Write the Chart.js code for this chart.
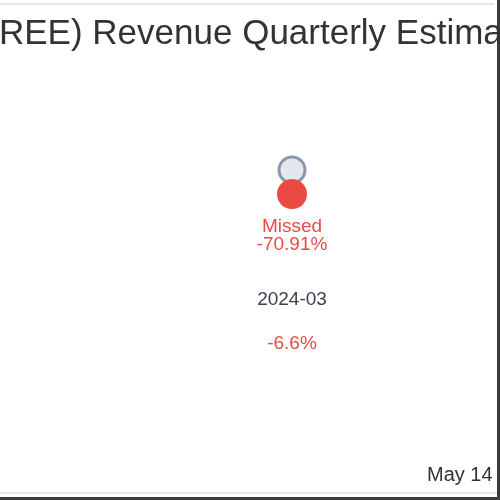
<!DOCTYPE html>
<html>
<head>
<meta charset="utf-8">
<script src="https://cdn.jsdelivr.net/npm/chart.js@4.4.1/dist/chart.umd.min.js"></script>
<style>
    html, body { margin: 0; padding: 0; background: #fff; }
    #wrap { width: 500px; height: 500px; position: relative; overflow: hidden; }
</style>
</head>
<body>
<div id="wrap"><canvas id="revChart" width="500" height="500"></canvas></div>
<script>
// Data (revenue in $M)
const quarters = ['2024-03'];
const estimates = [0.55];
const actuals = [0.16];
const yoyChange = [-6.6];
const reportDates = ['May 14'];
const titleText = '(REE) Revenue Quarterly Estimates';

const RED = '#ea4a42';
const FONT = '"Liberation Sans", Arial, sans-serif';

// --- Text and frame drawn on top of the chart ---
const labelPlugin = {
    id: 'labels',
    afterDraw(chart) {
        const ctx = chart.ctx;
        const area = chart.chartArea;
        const xs = chart.scales.x;
        ctx.save();

        // frame lines of the cropped picture
        ctx.strokeStyle = '#e6e8ec';
        ctx.lineWidth = 2;
        ctx.beginPath();
        ctx.moveTo(0, 4); ctx.lineTo(494, 4);
        ctx.moveTo(0, 493); ctx.lineTo(500, 493);
        ctx.stroke();
        ctx.strokeStyle = '#3c3c3c';
        ctx.lineWidth = 3;
        ctx.beginPath();
        ctx.moveTo(0, 498.5); ctx.lineTo(500, 498.5);
        ctx.moveTo(498.5, 0); ctx.lineTo(498.5, 500);
        ctx.stroke();

        // title, cut at the left edge
        ctx.font = '35px ' + FONT;
        ctx.fillStyle = '#333333';
        ctx.textAlign = 'left';
        ctx.textBaseline = 'alphabetic';
        const lead = ctx.measureText('(').width;
        ctx.fillText(titleText, -lead - 1, 44);

        // labels under each quarter
        ctx.textAlign = 'center';
        ctx.font = '19px ' + FONT;
        quarters.forEach((q, i) => {
            const x = xs.getPixelForValue(i);
            const surprise = (actuals[i] - estimates[i]) / estimates[i] * 100;
            const beat = surprise >= 0;
            ctx.fillStyle = beat ? '#22a05a' : RED;
            ctx.fillText(beat ? 'Beat' : 'Missed', x, area.bottom + 28);
            ctx.fillText((beat ? '+' : '') + surprise.toFixed(2) + '%', x, area.bottom + 46);
            ctx.fillStyle = '#3a4050';
            ctx.fillText(q, x, area.bottom + 101);
            ctx.fillStyle = yoyChange[i] < 0 ? RED : '#22a05a';
            ctx.fillText(yoyChange[i] + '%', x, area.bottom + 145);
        });

        // report date, cut at the right edge
        ctx.textAlign = 'left';
        ctx.font = '20px ' + FONT;
        ctx.fillStyle = '#333333';
        ctx.fillText(reportDates[0], 427, 481);
        ctx.restore();
    }
};

const ctx = document.getElementById('revChart').getContext('2d');
new Chart(ctx, {
    type: 'line',
    data: {
        labels: quarters,
        datasets: [
            {
                label: 'Actual',
                data: actuals,
                showLine: false,
                pointRadius: 15,
                pointBackgroundColor: RED,
                pointBorderColor: RED,
                pointBorderWidth: 0,
                clip: false
            },
            {
                label: 'Estimate',
                data: estimates,
                showLine: false,
                pointRadius: 13,
                pointBackgroundColor: '#e3e8ef',
                pointBorderColor: '#8c96aa',
                pointBorderWidth: 3,
                clip: false
            }
        ]
    },
    options: {
        responsive: false,
        animation: false,
        layout: { padding: { left: 100, right: 0, top: 142, bottom: 296 } },
        scales: {
            x: { display: false, offset: true },
            y: { display: false, min: 0, max: 1 }
        },
        plugins: {
            legend: { display: false },
            tooltip: { enabled: false }
        }
    },
    plugins: [labelPlugin]
});
</script>
</body>
</html>
